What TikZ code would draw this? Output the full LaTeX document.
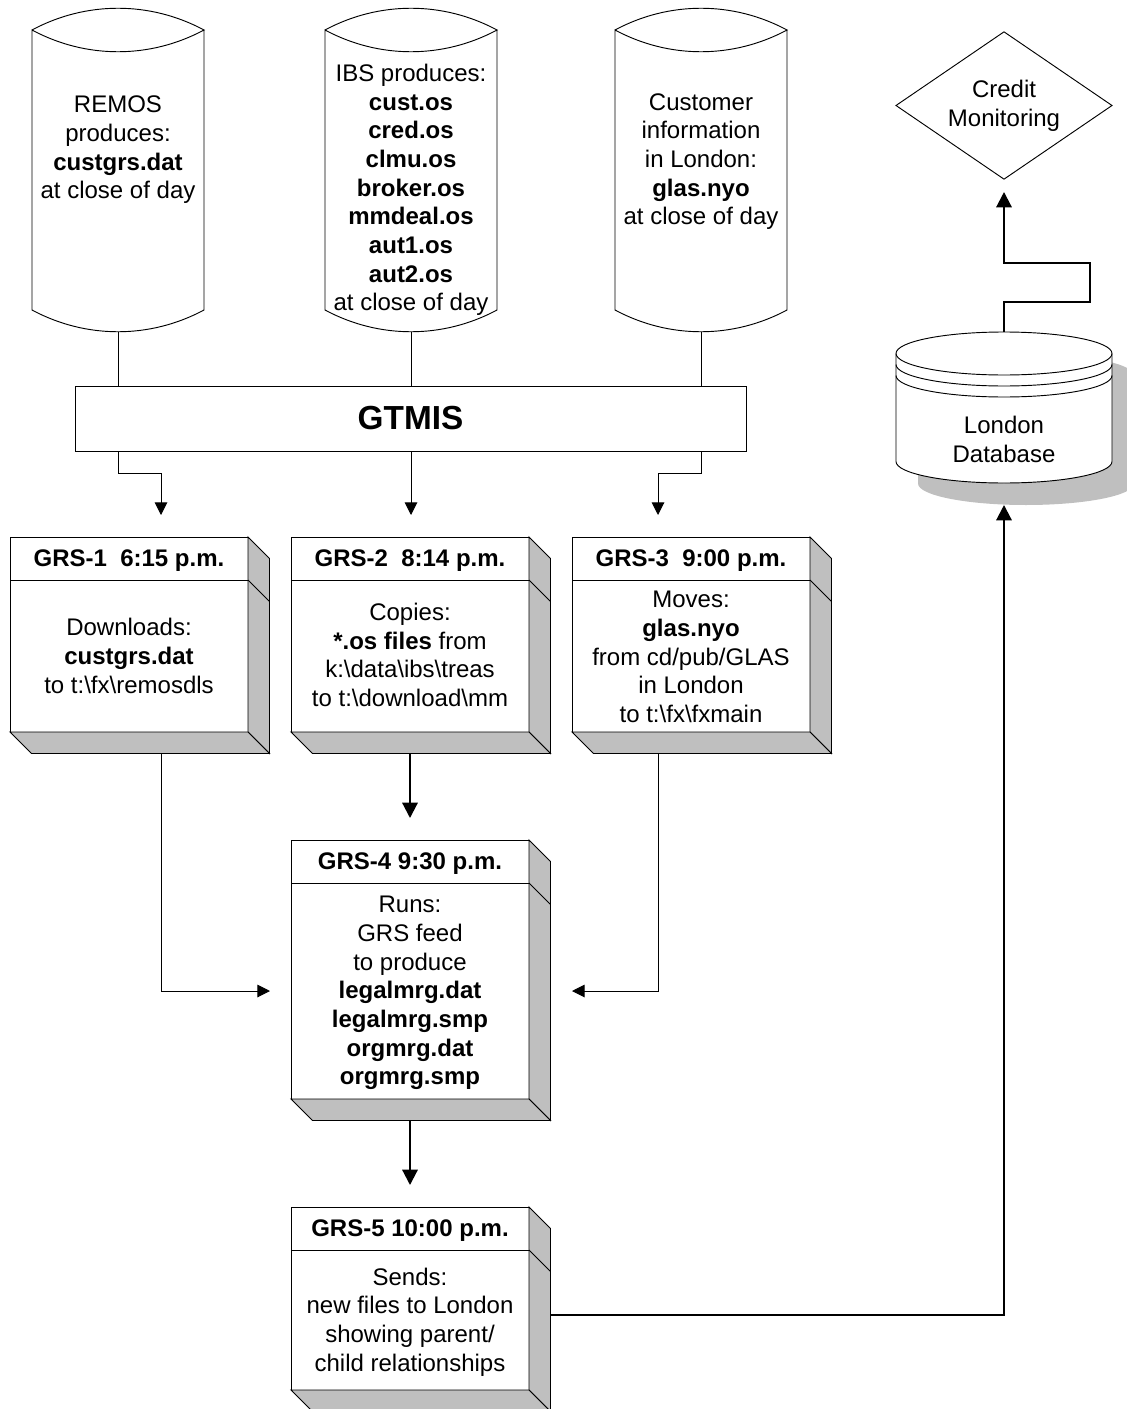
\documentclass[tikz,border=0pt]{standalone}
\usepackage{fontspec}
\usepackage{xcolor}
\setmainfont{Liberation Sans}
\usetikzlibrary{shapes.geometric}
\usetikzlibrary{positioning}
\usetikzlibrary{calc}
\usetikzlibrary{arrows.meta}
\definecolor{BOX-GRAY}{rgb}{0.75,0.75,0.75}
\tikzset{
	label_text/.style={inner sep=0pt,outer sep=0pt,align=center,font=\fontsize{18}{21.5}\selectfont},
	head_text/.style={draw,inner sep=0pt,outer sep=0pt,minimum width=178.5pt,minimum height=32.25pt,text height=12pt,text depth=0pt,font=\fontsize{18}{21.5}\selectfont\bfseries},
	body_box/.style={draw,inner sep=0pt,outer sep=0pt,minimum width=178.5pt},
	thin_flow/.style={->,line width=0.75pt,>={Triangle[length=9.5pt,width=9.5pt]}},
	bold_flow/.style={->,line width=1.6pt,>={Triangle[length=11.5pt,width=11.5pt]}},
}
% source file: name, x, text y, text
\newcommand{\filestore}[4]{
	\node (#1) at (#2,170) [inner sep=0pt,outer sep=0pt,minimum width=129pt,minimum height=243pt] {};
	\draw[shift={(#1.center)}] (-86,-140) .. controls (-32,-169) and (32,-169) .. (86,-140)
		.. controls (32,-111) and (-32,-111) .. (-86,-140) -- (-86,140)
		.. controls (-32,169) and (32,169) .. (86,140) -- (86,-140);
	\node (#1_text) at (#2,#3) [label_text] {#4};
}
% job box: name, x, y of body, height of body, head, y of text, text
\newcommand{\grsbox}[7]{
	\node (#1) at (#2,#3) [body_box,minimum height=#4*0.75pt] {};
	\node (#1_head) [head_text,above=0pt of #1] {#5};
	\node (#1_text) at (#2,#6) [label_text] {#7};
	\draw[fill=BOX-GRAY] (#1_head.north east) -- ++(21.5,21.5) -- ($(#1.south east)+(21.5,21.5)$) -- (#1.south east) -- cycle;
	\draw[fill=BOX-GRAY] (#1.south west) -- ++(21.5,21.5) -- ++(238,0) -- (#1.south east) -- cycle;
	\draw (#1.north east) -- ++(21.5,21.5);
	\coordinate (#1_foot) at ($(#1.south)+(0,21.5)$);
}
\begin{document}
\begin{tikzpicture}[x=0.75pt,y=-0.75pt,line width=0.7pt]
	\path[use as bounding box,clip] (0,0) rectangle (1127,1409);

	% draw file stores
	\filestore{S_remos}{118}{150}{REMOS\\produces:\\\textbf{custgrs.dat}\\at close of day}
	\filestore{S_ibs}{411}{190}{IBS produces:\\\textbf{cust.os}\\\textbf{cred.os}\\\textbf{clmu.os}\\\textbf{broker.os}\\\textbf{mmdeal.os}\\\textbf{aut1.os}\\\textbf{aut2.os}\\at close of day}
	\filestore{S_cust}{701}{161.5}{Customer\\information\\in London:\\\textbf{glas.nyo}\\at close of day}

	% draw gtmis
	\node (gtmis) at (410.5,418.5) [draw,inner sep=0pt,outer sep=0pt,minimum width=503.25pt,minimum height=48.75pt,font=\fontsize{25}{30}\selectfont\bfseries] {GTMIS};

	% draw jobs
	\grsbox{G_1}{129}{656}{152}{GRS-1\ \ 6:15 p.m.}{656}{Downloads:\\\textbf{custgrs.dat}\\to t:\textbackslash fx\textbackslash remosdls}
	\grsbox{G_2}{410}{656}{152}{GRS-2\ \ 8:14 p.m.}{655}{Copies:\\\textbf{*.os files} from\\k:\textbackslash data\textbackslash ibs\textbackslash treas\\to t:\textbackslash download\textbackslash mm}
	\grsbox{G_3}{691}{656}{152}{GRS-3\ \ 9:00 p.m.}{657}{Moves:\\\textbf{glas.nyo}\\from cd/pub/GLAS\\in London\\to t:\textbackslash fx\textbackslash fxmain}
	\grsbox{G_4}{410}{991}{216}{GRS-4 9:30 p.m.}{993}{Runs:\\GRS feed\\to produce\\\textbf{legalmrg.dat}\\\textbf{legalmrg.smp}\\\textbf{orgmrg.dat}\\\textbf{orgmrg.smp}}
	\grsbox{G_5}{410}{1320}{140}{GRS-5 10:00 p.m.}{1322}{Sends:\\new files to London\\showing parent/\\child relationships}

	% draw london database
	\fill[BOX-GRAY] (918,375.5) arc[start angle=180,end angle=360,x radius=108,y radius=21.5] -- (1134,483.5)
		arc[start angle=0,end angle=180,x radius=108,y radius=21.5] -- cycle;
	\node (london) at (1004,407.5) [inner sep=0pt,outer sep=0pt,minimum width=162pt,minimum height=113.25pt] {};
	\draw[fill=white] (896,353.5) arc[start angle=180,end angle=360,x radius=108,y radius=21.5] -- (1112,461.5)
		arc[start angle=0,end angle=180,x radius=108,y radius=21.5] -- cycle;
	\draw (896,353.5) arc[start angle=180,end angle=0,x radius=108,y radius=21.5];
	\draw (896,364.5) arc[start angle=180,end angle=0,x radius=108,y radius=21.5];
	\draw (896,375.5) arc[start angle=180,end angle=0,x radius=108,y radius=21.5];
	\node (london_text) at (1004,439.5) [label_text] {London\\Database};

	% draw diamond
	\node (credit) at (1004,105.5) [draw,diamond,aspect=1.47,inner sep=0pt,outer sep=0pt,minimum width=162pt,minimum height=110.5pt,label_text] {Credit\\Monitoring};

	% draw arrow ends
	\coordinate (in_1) at (161,515);
	\coordinate (in_2) at (411,515);
	\coordinate (in_3) at (658,515);
	\coordinate (in_4l) at (270,991);
	\coordinate (in_4t) at (410,818);
	\coordinate (in_4r) at (572,991);
	\coordinate (in_5) at (410,1185);
	\coordinate (in_db) at (1004,505);
	\coordinate (in_credit) at (1004,192);
	\coordinate (out_5) at (551,1315);

	% draw lines
	\draw[line width=0.75pt] (S_remos.south) -- (gtmis.north -| S_remos);
	\draw[line width=0.75pt] (S_ibs.south) -- (gtmis.north -| S_ibs);
	\draw[line width=0.75pt] (S_cust.south) -- (gtmis.north -| S_cust);

	% draw arrows
	\draw[thin_flow] (gtmis.south -| S_remos) -- ++(0,22) -| (in_1);
	\draw[thin_flow] (gtmis.south -| S_ibs) -- (in_2);
	\draw[thin_flow] (gtmis.south -| S_cust) -- ++(0,22) -| (in_3);
	\draw[thin_flow] (G_1_foot -| in_1) |- (in_4l);
	\draw[thin_flow] (G_3_foot -| in_3) |- (in_4r);
	\draw[bold_flow] (G_2_foot) -- (in_4t);
	\draw[bold_flow] (G_4_foot) -- (in_5);
	\draw[bold_flow] (out_5) -| (in_db);
	\draw[bold_flow] (london.north) -- ++(0,-30) -| ++(86,-39) -| (in_credit);
\end{tikzpicture}
\end{document}
